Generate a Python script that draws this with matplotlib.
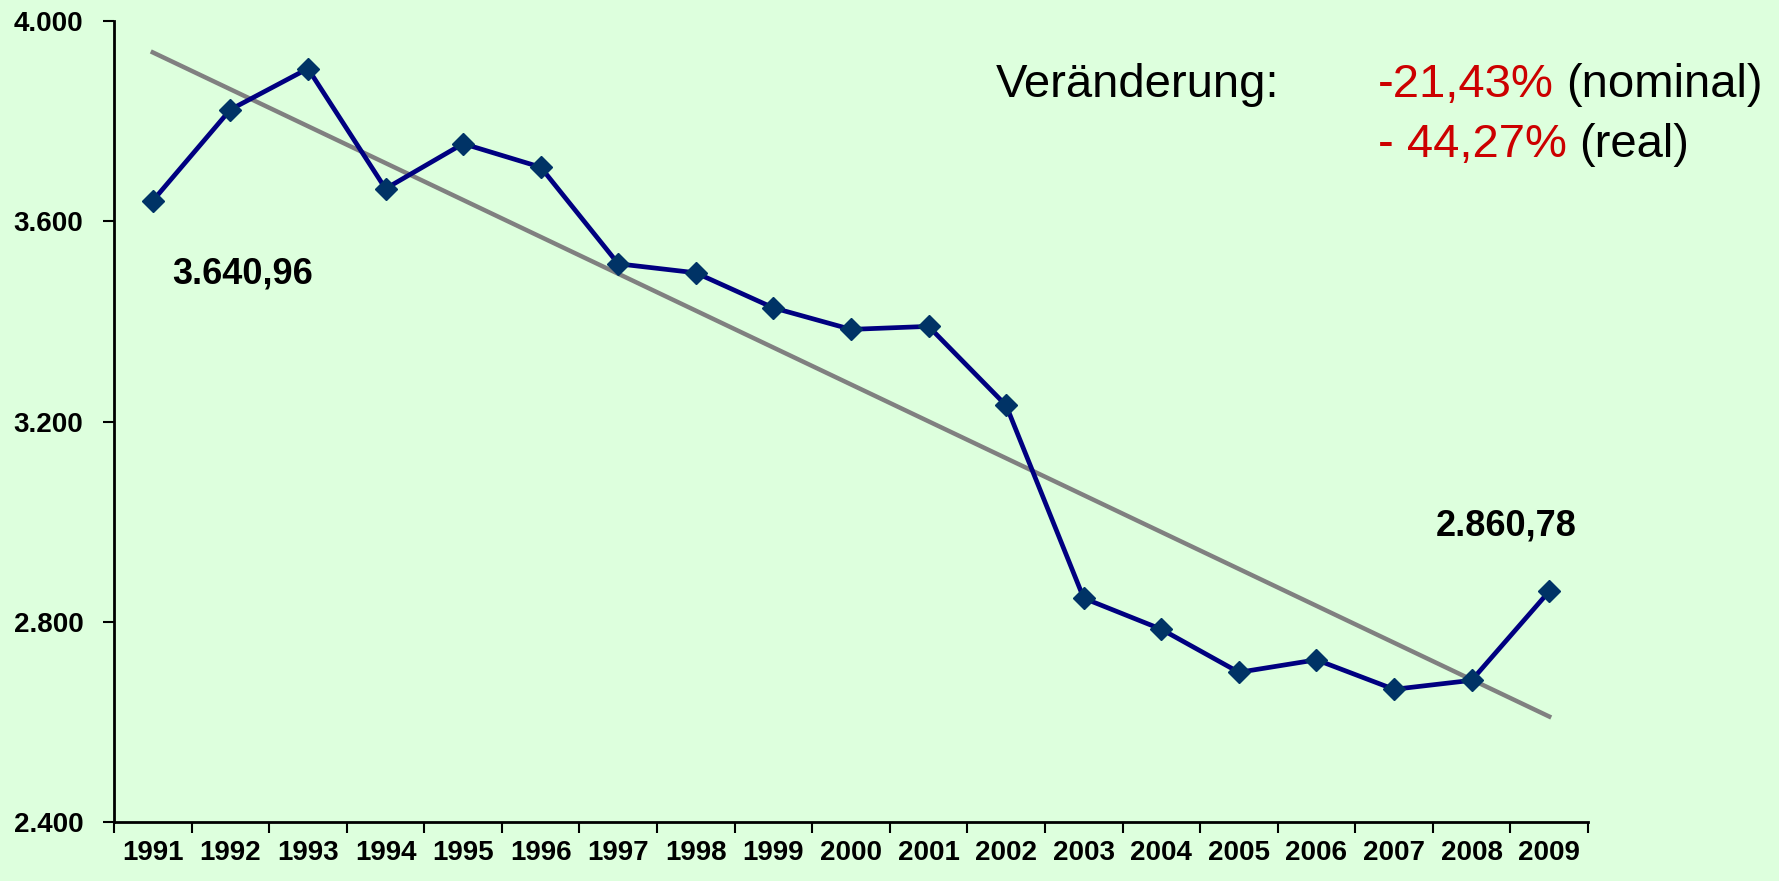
import numpy as np
import matplotlib
matplotlib.use("Agg")
import matplotlib.pyplot as plt

# values
years = [str(y) for y in range(1991, 2010)]
values = [3640.96, 3823, 3905, 3665, 3755, 3708, 3515, 3497, 3427, 3384,
          3390, 3232, 2847, 2785, 2699, 2724, 2665, 2683, 2860.78]
y_ticks = [2400, 2800, 3200, 3600, 4000]
y_ticklabels = ["2.400", "2.800", "3.200", "3.600", "4.000"]
first_label = "3.640,96"
last_label = "2.860,78"

plt.rcParams['font.family'] = ['Liberation Sans', 'DejaVu Sans']
bg = '#DDFFDD'

fig = plt.figure(figsize=(17.79, 8.81), dpi=100, facecolor=bg)
ax = fig.add_axes([114 / 1779, 1 - 822 / 881, (1588 - 114) / 1779, (822 - 21) / 881])
ax.set_facecolor(bg)

x = np.arange(len(years))

# linear trend line
k, d = np.polyfit(x, values, 1)
ax.plot(x, k * x + d, color='#808080', lw=3.2, zorder=2)

ax.plot(x, values, color='#000080', lw=3.4, marker='D', ms=11.5,
        markerfacecolor='#003366', markeredgecolor='#003366', zorder=3)

ax.set_xlim(-0.5, len(years) - 0.5)
ax.set_ylim(2400, 4000)

for s in ['top', 'right']:
    ax.spines[s].set_visible(False)
for s in ['left', 'bottom']:
    ax.spines[s].set_linewidth(2)

ax.set_yticks(y_ticks)
ax.set_yticklabels(y_ticklabels, fontsize=20, fontweight='bold')
ax.tick_params(axis='y', length=8, width=1.5, pad=14)

ax.set_xticks(np.arange(-0.5, len(years)), minor=False)
ax.set_xticklabels([])
ax.tick_params(axis='x', which='major', length=8, width=1.5)
ax.set_xticks(x, minor=True)
ax.set_xticklabels(years, minor=True, fontsize=20, fontweight='bold')
ax.tick_params(axis='x', which='minor', length=0, pad=13)

ax.annotate(first_label, xy=(x[0], values[0]), xytext=(14, -53), textcoords='offset points',
            fontsize=26, fontweight='bold', ha='left', va='center')
ax.annotate(last_label, xy=(x[-1], values[-1]), xytext=(-31, 47), textcoords='offset points',
            fontsize=26, fontweight='bold', ha='center', va='center')

fig.text(996 / 1779, 1 - 85 / 881, "Veränderung:", fontsize=34, ha='left', va='center')
t1 = fig.text(1378 / 1779, 1 - 85 / 881, "-21,43%", fontsize=34, color='#CC0000',
              ha='left', va='center')
t2 = fig.text(1378 / 1779, 1 - 145 / 881, "- 44,27%", fontsize=34, color='#CC0000',
              ha='left', va='center')
ax.annotate("(nominal)", xy=(1, 0), xycoords=t1, xytext=(9, 0), textcoords='offset points',
            fontsize=34, ha='left', va='bottom', annotation_clip=False)
ax.annotate("(real)", xy=(1, 0), xycoords=t2, xytext=(9, 0), textcoords='offset points',
            fontsize=34, ha='left', va='bottom', annotation_clip=False)

fig.savefig('out.png', dpi=100, facecolor=bg)
